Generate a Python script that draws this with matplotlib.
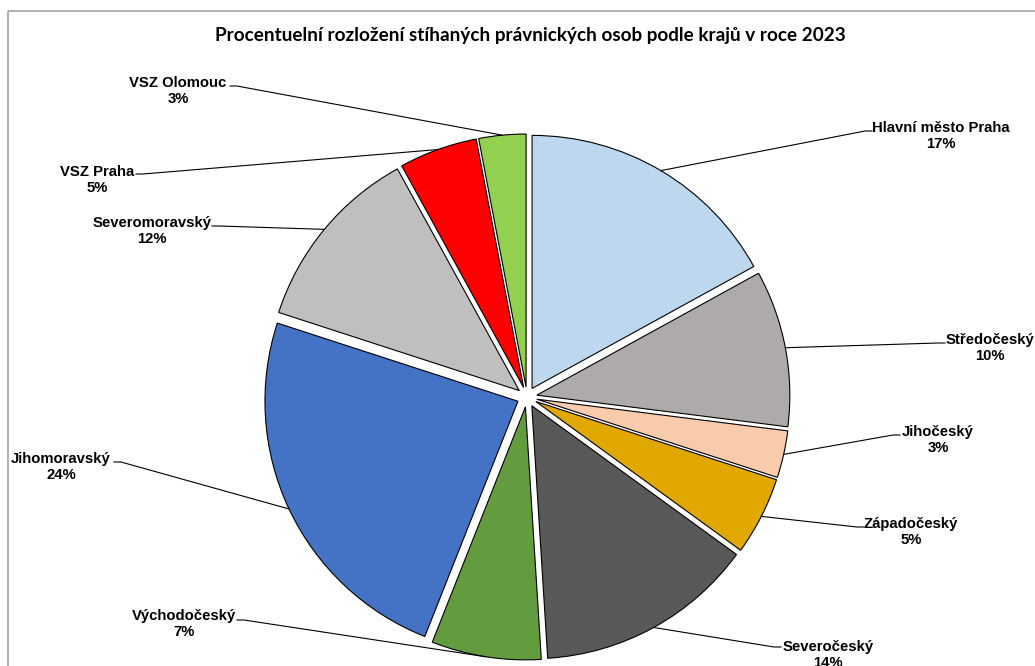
import matplotlib
matplotlib.use('Agg')
import matplotlib.pyplot as plt
from matplotlib.patches import Rectangle
import numpy as np

# data (percent)
regions = ['Hlavní město Praha', 'Středočeský', 'Jihočeský', 'Západočeský', 'Severočeský',
           'Východočeský', 'Jihomoravský', 'Severomoravský', 'VSZ Praha', 'VSZ Olomouc']
shares = [17, 10, 3, 5, 14, 7, 24, 12, 5, 3]
colors = ['#BDD7EE', '#AEAAAA', '#F8CBAD', '#E0A800', '#595959',
          '#629C3F', '#4472C4', '#BFBFBF', '#FF0000', '#92D050']
title = 'Procentuelní rozložení stíhaných právnických osob podle krajů v roce 2023'

# layout in pixel coords of the picture (x right, y down)
text_pos = [(941, 136), (990, 348), (938, 440), (911, 532), (828, 655),
            (184, 624), (61, 467), (152, 231), (97, 180), (178, 91)]
attach_pos = [(872, 131), (945, 343), (900, 435), (864, 527), (781, 647),
              (237, 620), (114, 462), (212, 226), (136, 174), (230, 86)]

W, H = 1035, 666
fig = plt.figure(figsize=(W / 100, H / 100), dpi=100)
ax = fig.add_axes([0, 0, 1, 1])

# explode is in data units here (pixels)
wedges, _ = ax.pie(shares, colors=colors, center=(527, 397), radius=253,
                   startangle=-90, counterclock=True, explode=[10] * len(shares),
                   frame=True, wedgeprops=dict(edgecolor='black', linewidth=0.8))
ax.set_xlim(0, W)
ax.set_ylim(H, 0)
ax.set_aspect('equal')
ax.axis('off')

# chart border (runs off the right and bottom edge)
ax.add_patch(Rectangle((7.5, 10.5), 1100, 800, fill=False, edgecolor='#A6A6A6', linewidth=1.2, zorder=0))

ax.text(530, 36, title, ha='center', va='center', fontsize=13.6, fontweight='bold',
        family=['Lato', 'DejaVu Sans'])

for i, w in enumerate(wedges):
    mid = np.deg2rad((w.theta1 + w.theta2) / 2)
    cx, cy = w.center
    px = cx + w.r * np.cos(mid)
    py = cy + w.r * np.sin(mid)
    ax_, ay_ = attach_pos[i]
    side = 1 if text_pos[i][0] > ax_ else -1
    bx = ax_ - side * 7
    ax.plot([px, bx, ax_], [py, ay_, ay_], color='black', linewidth=0.8)
    ax.text(text_pos[i][0], text_pos[i][1], f'{regions[i]}\n{shares[i]}%',
            ha='center', va='center', multialignment='center', fontsize=10.7,
            fontweight='bold', family=['Liberation Sans', 'DejaVu Sans'], linespacing=1.2)

fig.savefig('out.png', dpi=100)
